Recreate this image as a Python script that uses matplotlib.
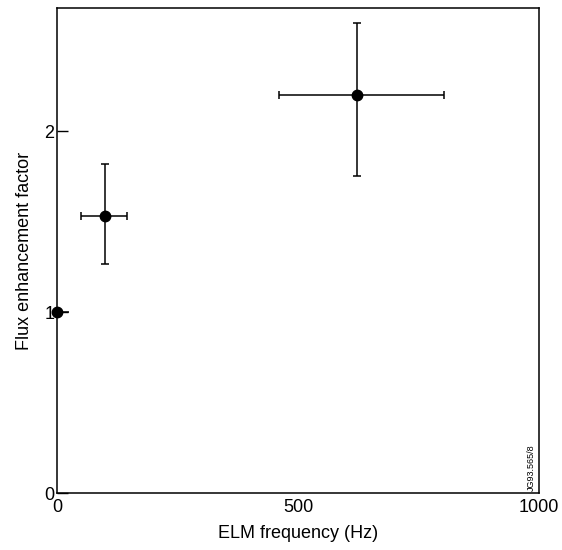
import matplotlib
matplotlib.use("Agg")
import matplotlib.pyplot as plt

plt.rcParams['font.family'] = ['Liberation Sans', 'DejaVu Sans']

# Data
elm_freq = [0, 100, 623]
flux_factor = [1.0, 1.53, 2.20]
xerr_low = [0, 50, 162]
xerr_high = [25, 45, 180]
yerr_low = [0.0, 0.265, 0.45]
yerr_high = [0.0, 0.29, 0.40]
xticks = [0, 500, 1000]
yticks = [0, 1, 2]

fig = plt.figure(figsize=(5.62, 5.5), dpi=100)
ax = fig.add_axes([0.1014, 0.1036, 0.8577, 0.8818])

# first point (no caps), remaining points with caps
ax.errorbar(elm_freq[:1], flux_factor[:1],
            xerr=[xerr_low[:1], xerr_high[:1]],
            fmt='o', color='black', markersize=7.5, elinewidth=1.1,
            capsize=0, clip_on=False, zorder=3)
ax.errorbar(elm_freq[1:], flux_factor[1:],
            xerr=[xerr_low[1:], xerr_high[1:]],
            yerr=[yerr_low[1:], yerr_high[1:]],
            fmt='o', color='black', markersize=7.5, elinewidth=1.1,
            capsize=3, capthick=1.1, clip_on=False, zorder=3)

ax.set_xlim(0, 1000)
ax.set_ylim(0, 2.68)
ax.set_xticks(xticks)
ax.set_yticks(yticks)
ax.set_xticklabels([str(t) for t in xticks])
ax.set_yticklabels([str(t) for t in yticks])
ax.tick_params(direction='in', length=8, width=1, labelsize=13, pad=2)
ax.tick_params(axis='x', length=0, pad=4)
for s in ax.spines.values():
    s.set_linewidth(1.1)

ax.set_xlabel('ELM frequency (Hz)', fontsize=13, labelpad=7)
ax.set_ylabel('Flux enhancement factor', fontsize=13, labelpad=8)

ax.text(0.985, 0.005, 'JG93.565/8', rotation=90, fontsize=6.5,
        transform=ax.transAxes, ha='center', va='bottom')

fig.savefig('out.png', dpi=100)
